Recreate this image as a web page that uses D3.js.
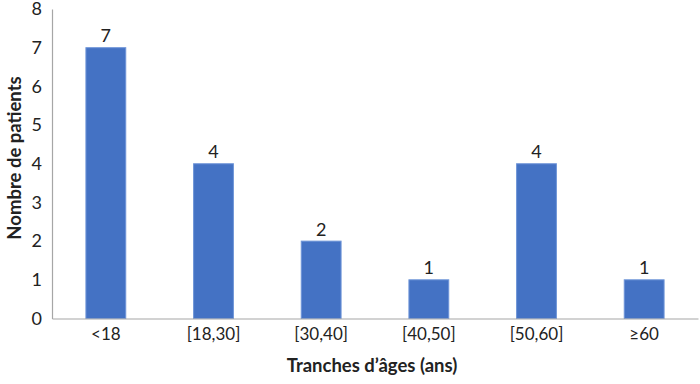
<!DOCTYPE html>
<html><head><meta charset="utf-8">
<script src="https://cdn.jsdelivr.net/npm/d3@7"></script>
<style>body{margin:0;background:#fff}svg{display:block}text{font-family:Lato,"Open Sans",sans-serif;fill:#222}</style>
</head><body><svg width="700" height="384"></svg>
<script>
const categories = ["<18","[18,30]","[30,40]","[40,50]","[50,60]","≥60"];
const values = [7,4,2,1,4,1];
const yTicks = [0,1,2,3,4,5,6,7,8];

const svg = d3.select("svg");
const m = {l:52, r:2, t:9, b:65.5};
const W = 700, H = 384;
const x = d3.scaleBand().domain(categories).range([m.l, W-m.r]).paddingInner(0.63).paddingOuter(0.315);
const y = d3.scaleLinear().domain([0,8]).range([H-m.b, m.t]);

const bars = svg.append("g");
bars.selectAll("rect").data(values).join("rect")
  .attr("x",(d,i)=>x(categories[i])).attr("width",x.bandwidth())
  .attr("y",d=>y(d)).attr("height",d=>y(0)-y(d))
  .attr("fill","#4472C4").attr("stroke","#6f95d8").attr("stroke-width",1);

bars.selectAll("text").data(values).join("text")
  .attr("x",(d,i)=>x(categories[i])+x.bandwidth()/2).attr("y",d=>y(d)-5.5)
  .attr("text-anchor","middle").attr("font-size",18).text(d=>d);

const ya = svg.append("g").attr("transform",`translate(${m.l},0)`)
  .call(d3.axisLeft(y).tickValues(yTicks).tickSize(0).tickPadding(10));
ya.select(".domain").attr("stroke","#a6a6a6").attr("stroke-width",1.2);
ya.selectAll("text").attr("font-size",18).style("font-family","Lato,sans-serif").attr("fill","#222");

const xa = svg.append("g").attr("transform",`translate(0,${y(0)})`)
  .call(d3.axisBottom(x).tickSize(0).tickPadding(9));
xa.select(".domain").attr("stroke","#a6a6a6").attr("stroke-width",1.2);
xa.selectAll("text").attr("font-size",17).style("font-family","Lato,sans-serif").attr("fill","#222");

svg.append("text").attr("x",372).attr("y",372).attr("text-anchor","middle")
  .attr("font-size",18.5).attr("font-weight","bold").text("Tranches d’âges (ans)");
svg.append("text").attr("transform",`translate(21,158) rotate(-90)`).attr("text-anchor","middle")
  .attr("font-size",18.5).attr("font-weight","bold").text("Nombre de patients");
</script></body></html>
